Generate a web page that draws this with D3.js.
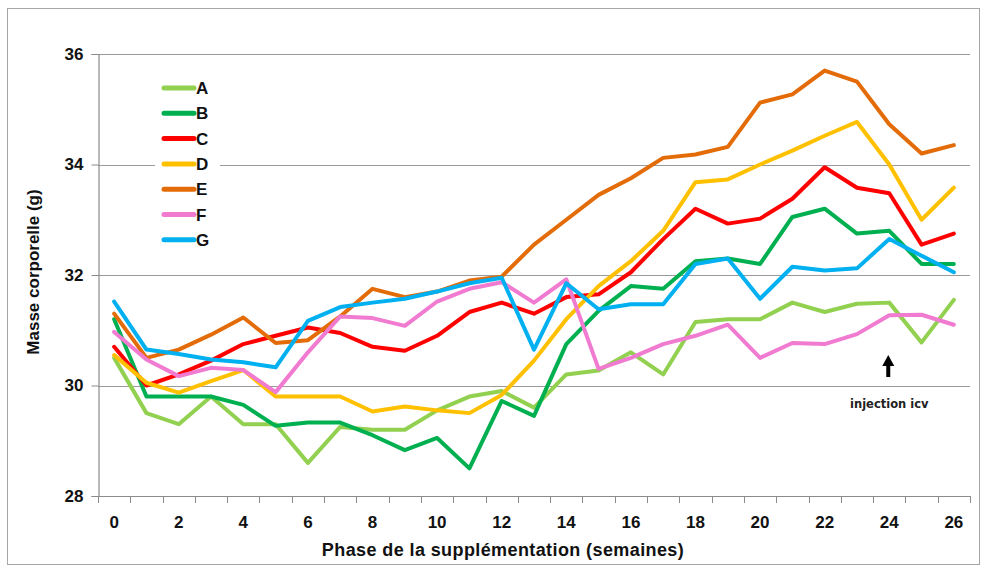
<!DOCTYPE html>
<html><head><meta charset="utf-8">
<script src="https://cdn.jsdelivr.net/npm/d3@7"></script>
<style>body{margin:0;background:#fff}svg{display:block}text{font-family:"Liberation Sans",Arial,sans-serif}</style>
</head><body><svg id="c" width="987" height="568"></svg>
<script>
const weeks = d3.range(0, 27);
const tickLabels = [0,2,4,6,8,10,12,14,16,18,20,22,24,26];
const yTicks = [28,30,32,34,36];
const seriesNames = ["A","B","C","D","E","F","G"];
const colors = ["#92d050","#00b050","#ff0000","#ffc000","#e36c09","#f07bd0","#00b0f0"];
const A = [30.5,29.5,29.3,29.8,29.3,29.3,28.6,29.25,29.2,29.2,29.55,29.8,29.9,29.6,30.2,30.27,30.6,30.2,31.15,31.2,31.2,31.5,31.33,31.48,31.5,30.78,31.55];
const B = [31.2,29.8,29.8,29.8,29.65,29.27,29.33,29.33,29.1,28.83,29.05,28.5,29.72,29.45,30.75,31.35,31.8,31.75,32.25,32.3,32.2,33.05,33.2,32.75,32.8,32.2,32.2];
const C = [30.7,30.0,30.2,30.45,30.75,30.9,31.05,30.95,30.7,30.63,30.9,31.33,31.5,31.3,31.6,31.65,32.05,32.65,33.2,32.93,33.02,33.38,33.95,33.58,33.48,32.55,32.75];
const D = [30.55,30.05,29.87,30.08,30.28,29.8,29.8,29.8,29.53,29.62,29.55,29.5,29.83,30.45,31.2,31.8,32.25,32.8,33.68,33.73,34.0,34.25,34.52,34.77,34.0,33.0,33.58];
const E = [31.3,30.5,30.65,30.92,31.23,30.77,30.82,31.25,31.75,31.6,31.7,31.9,31.97,32.55,33.0,33.45,33.75,34.12,34.18,34.32,35.12,35.27,35.7,35.5,34.73,34.2,34.35];
const F = [30.97,30.47,30.17,30.32,30.28,29.88,30.6,31.25,31.22,31.08,31.52,31.75,31.87,31.5,31.92,30.3,30.5,30.75,30.9,31.1,30.5,30.77,30.75,30.93,31.27,31.28,31.1];
const G = [31.52,30.65,30.57,30.47,30.42,30.33,31.17,31.42,31.5,31.57,31.7,31.85,31.95,30.65,31.85,31.38,31.47,31.47,32.2,32.3,31.57,32.15,32.08,32.12,32.65,32.35,32.05];
const seriesValues = [A,B,C,D,E,F,G];
const annotationText = "injection icv";
const annotationWeek = 24;
const yTitle = "Masse corporelle (g)";
const xTitle = "Phase de la supplémentation (semaines)";

const svg = d3.select("#c");
const m = {l:98, r:970, t:54, b:496};
const x = d3.scaleBand().domain(weeks).range([m.l, m.r]);
const xc = d => x(d) + x.bandwidth()/2;
const y = d3.scaleLinear().domain([28,36]).range([m.b, m.t]);

svg.append("rect").attr("x",7.5).attr("y",8.5).attr("width",972).attr("height",556)
  .attr("fill","none").attr("stroke","#a6a6a6");

// gridlines
svg.append("g").selectAll("line").data(yTicks.filter(t=>t>28)).join("line")
  .attr("x1",m.l).attr("x2",m.r).attr("y1",d=>Math.round(y(d))+0.5).attr("y2",d=>Math.round(y(d))+0.5)
  .attr("stroke","#9a9a9a").attr("stroke-width",1.2);

// y axis
const ya = svg.append("g").attr("transform",`translate(${m.l+0.5},0)`)
  .call(d3.axisLeft(y).tickValues(yTicks).tickSize(7).tickPadding(8).tickFormat(d3.format("d")));
ya.select(".domain").attr("stroke","#8c8c8c").attr("stroke-width",1.2);
ya.selectAll(".tick line").attr("stroke","#8c8c8c");
ya.selectAll("text").attr("font-size",17).attr("font-weight","bold").attr("fill","#111")
  .style("font-family","'Liberation Sans',Arial,sans-serif");

// x axis: ticks at band boundaries, labels every 2 weeks
const xg = svg.append("g");
xg.append("line").attr("x1",m.l).attr("x2",m.r).attr("y1",m.b+0.5).attr("y2",m.b+0.5)
  .attr("stroke","#8c8c8c").attr("stroke-width",1.2);
const bounds = weeks.map(w=>x(w)).concat([m.r]);
xg.selectAll("line.tk").data(bounds).join("line").attr("class","tk")
  .attr("x1",d=>Math.round(d)+0.5).attr("x2",d=>Math.round(d)+0.5).attr("y1",m.b).attr("y2",m.b+7)
  .attr("stroke","#8c8c8c");
xg.selectAll("text").data(tickLabels).join("text")
  .attr("x",d=>xc(d)).attr("y",528).attr("text-anchor","middle")
  .attr("font-size",17).attr("font-weight","bold").attr("fill","#111").text(d=>d);

// titles
svg.append("text").attr("transform","translate(39,272) rotate(-90)").attr("text-anchor","middle")
  .attr("font-size",17).attr("font-weight","bold").attr("fill","#111").text(yTitle);
svg.append("text").attr("x",503).attr("y",556).attr("text-anchor","middle")
  .attr("font-size",18).attr("font-weight","bold").attr("fill","#111")
  .style("letter-spacing","0.4px").text(xTitle);

// lines
const line = d3.line().x((d,i)=>xc(weeks[i])).y(d=>y(d));
svg.append("g").selectAll("path").data(seriesValues).join("path")
  .attr("d",line).attr("fill","none").attr("stroke",(d,i)=>colors[i])
  .attr("stroke-width",4).attr("stroke-linejoin","round").attr("stroke-linecap","round");

// legend
const lg = svg.append("g");
lg.append("rect").attr("x",155).attr("y",75).attr("width",65).attr("height",178).attr("fill","#fff");
seriesNames.forEach((n,i)=>{
  const yy = 88 + i*25.3;
  lg.append("line").attr("x1",164).attr("x2",194).attr("y1",yy).attr("y2",yy)
    .attr("stroke",colors[i]).attr("stroke-width",5).attr("stroke-linecap","round");
  lg.append("text").attr("x",196).attr("y",yy+6).attr("font-size",17).attr("font-weight","bold")
    .attr("fill","#111").text(n);
});

// annotation
const ax = xc(annotationWeek) - 1;
svg.append("path").attr("d",`M${ax},355 L${ax-6},366 L${ax-2},366 L${ax-2},377 L${ax+2},377 L${ax+2},366 L${ax+6},366 Z`)
  .attr("fill","#000");
svg.append("text").attr("x",ax+1).attr("y",408).attr("text-anchor","middle")
  .attr("font-size",11.5).attr("font-weight","bold").attr("fill","#222")
  .style("font-family","'DejaVu Sans',Verdana,sans-serif").text(annotationText);
</script></body></html>
